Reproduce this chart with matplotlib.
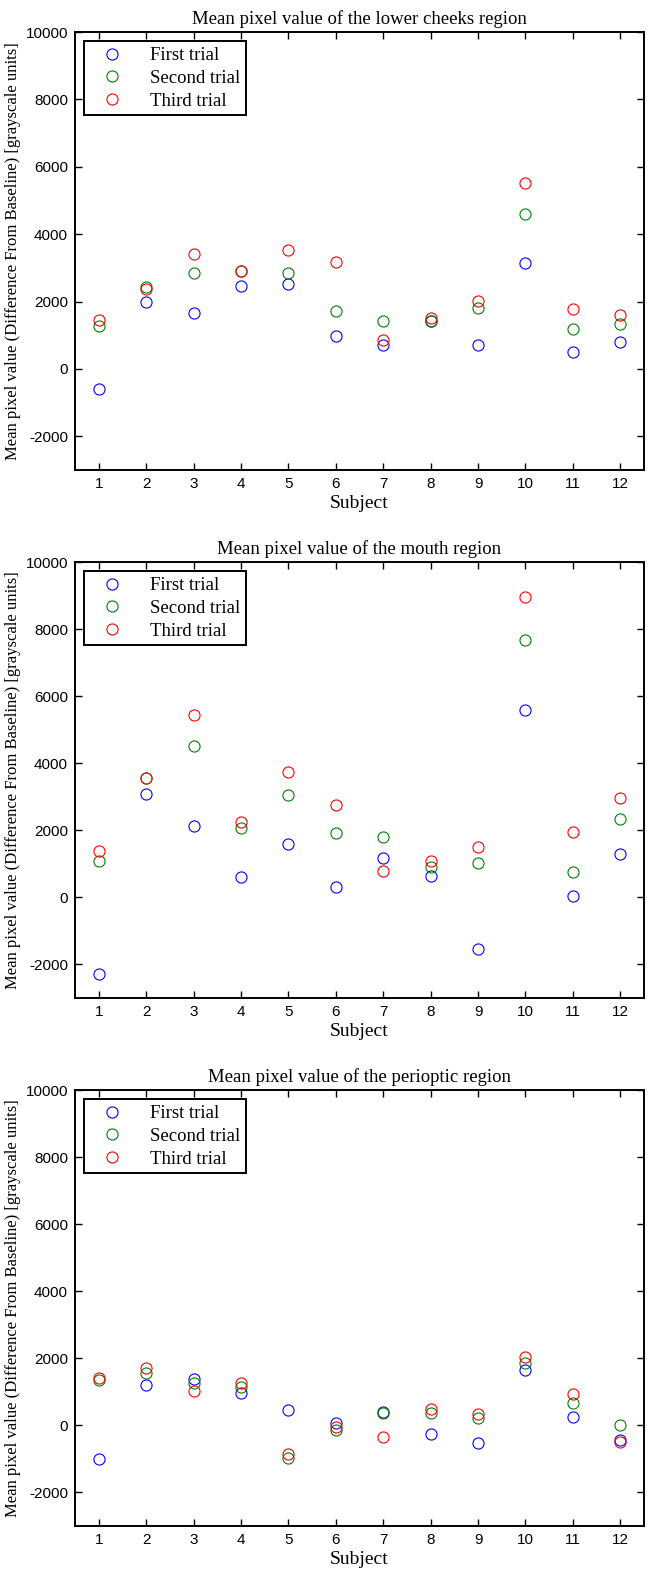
import matplotlib
matplotlib.use('Agg')
import matplotlib.pyplot as plt

plt.rcParams['axes.unicode_minus'] = False

subjects = [1, 2, 3, 4, 5, 6, 7, 8, 9, 10, 11, 12]

# lower cheeks region
cheeks_first = [-600, 2000, 1650, 2450, 2520, 980, 700, 1420, 720, 3130, 500, 800]
cheeks_second = [1280, 2420, 2860, 2900, 2860, 1720, 1410, 1420, 1820, 4600, 1180, 1320]
cheeks_third = [1440, 2380, 3400, 2900, 3540, 3170, 860, 1500, 2010, 5530, 1780, 1600]

# mouth region
mouth_first = [-2270, 3090, 2140, 620, 1600, 320, 1160, 650, -1530, 5600, 40, 1300]
mouth_second = [1090, 3570, 4520, 2060, 3060, 1910, 1810, 900, 1030, 7670, 750, 2350]
mouth_third = [1370, 3570, 5440, 2250, 3740, 2760, 780, 1070, 1510, 8960, 1940, 2960]

# perioptic region
peri_first = [-1000, 1200, 1370, 980, 460, 60, 400, -260, -540, 1650, 260, -440]
peri_second = [1360, 1570, 1250, 1150, -970, -140, 360, 360, 210, 1850, 660, 0]
peri_third = [1400, 1700, 1030, 1250, -840, -40, -340, 490, 330, 2030, 950, -490]

titles = ['Mean pixel value of the lower cheeks region',
          'Mean pixel value of the mouth region',
          'Mean pixel value of the perioptic region']
series = [(cheeks_first, cheeks_second, cheeks_third),
          (mouth_first, mouth_second, mouth_third),
          (peri_first, peri_second, peri_third)]
labels = ['First trial', 'Second trial', 'Third trial']
colors = ['#0000ff', '#008000', '#ff0000']

serif = 'Liberation Serif'
sans = 'Liberation Sans'

W, H = 649, 1574
fig = plt.figure(figsize=(W / 100, H / 100), dpi=100)

# axes boxes in pixels: (top, bottom)
boxes = [(32, 470), (562, 998), (1090, 1526)]
left, right = 75, 644

for (top, bottom), title, data in zip(boxes, titles, series):
    ax = fig.add_axes([left / W, 1 - bottom / H, (right - left) / W, (bottom - top) / H])
    for vals, lab, c in zip(data, labels, colors):
        ax.plot(subjects, vals, linestyle='None', marker='o', markersize=8,
                markerfacecolor='none', markeredgecolor=c, markeredgewidth=0.8,
                label=lab)
    ax.set_xlim(0.5, 12.5)
    ax.set_ylim(-3000, 10000)
    ax.set_xticks(subjects)
    ax.set_yticks(range(-2000, 10001, 2000))
    ax.tick_params(direction='in', length=5, width=1, top=True, right=True,
                   labelsize=11, pad=5)
    for t in ax.get_xticklabels() + ax.get_yticklabels():
        t.set_fontfamily(sans)
    for s in ax.spines.values():
        s.set_linewidth(1.4)
    ax.set_title(title, fontfamily=serif, fontsize=13.5, pad=6)
    ax.set_xlabel('Subject', fontfamily=serif, fontsize=14, labelpad=3)
    ax.set_ylabel('Mean pixel value (Difference From Baseline) [grayscale units]',
                  fontfamily=serif, fontsize=12, labelpad=3)
    leg = ax.legend(loc='upper left', prop={'family': serif, 'size': 13.5},
                    fancybox=False, edgecolor='black', framealpha=1,
                    borderaxespad=0.5, handlelength=2.3, handletextpad=0.9,
                    labelspacing=0.3, borderpad=0.3)
    leg.get_frame().set_linewidth(1.4)

fig.savefig('out.png', dpi=100)
